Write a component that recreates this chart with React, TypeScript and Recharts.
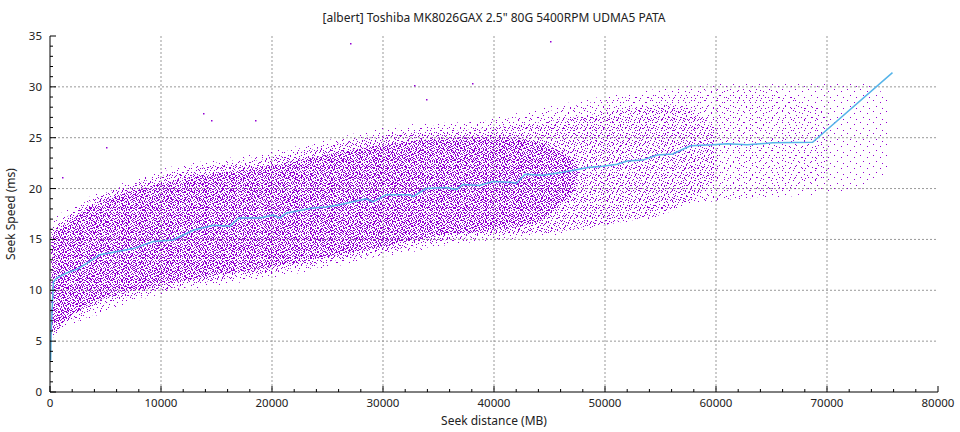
import React from "react";
import { ComposedChart, Area, Line, Scatter, XAxis, YAxis, CartesianGrid } from "recharts";

const TITLE = '[albert] Toshiba MK8026GAX 2.5" 80G 5400RPM UDMA5 PATA';

// x ticks (MB) and y ticks (ms)
const X_MAJOR = [0, 10000, 20000, 30000, 40000, 50000, 60000, 70000, 80000];
const Y_MAJOR = [0, 5, 10, 15, 20, 25, 30, 35];
const X_ALL = Array.from({ length: 41 }, (_, i) => i * 2000);
const Y_ALL = Array.from({ length: 36 }, (_, i) => i);

// running average of seek time
const AVG_X = [60, 100, 300, 600, 1500, 2500, 3300, 4500, 7500, 9300, 11100, 12900, 14700, 16200, 17000, 18900, 20100, 20700, 21300, 23700, 24900, 26100, 27300, 28500, 29100, 30300, 32400, 32700, 33900, 35700, 36600, 37200, 38700, 39900, 41700, 42000, 42800, 44400, 46200, 48600, 49800, 51100, 52000, 53400, 54700, 56100, 57700, 59700, 61000, 62800, 65100, 68700, 75900];
const AVG_Y = [3.1, 5.8, 10.8, 11.2, 11.7, 12.1, 12.65, 13.5, 14.1, 14.8, 14.95, 15.9, 16.4, 16.3, 17.1, 17.1, 17.4, 17.1, 17.6, 18.1, 18.2, 18.4, 18.7, 19.0, 18.7, 19.4, 19.4, 19.2, 20.0, 20.1, 19.9, 20.4, 20.3, 20.7, 20.6, 20.5, 21.4, 21.3, 21.6, 22.1, 22.2, 22.4, 22.7, 22.8, 23.3, 23.4, 24.2, 24.3, 24.4, 24.3, 24.5, 24.55, 31.4];

// outer edge of the sample cloud (very few samples near the rim)
const FAINT_X = [100, 1000, 3000, 6000, 10000, 14000, 18000, 22000, 26000, 30000, 34000, 38000, 42000, 46000, 50000, 54000, 58000, 62000, 66000, 70000, 73000, 75500];
const FAINT_LO = [4.8, 6.2, 7.0, 8.3, 9.6, 10.3, 10.9, 11.6, 12.4, 13.3, 14.0, 14.9, 15.0, 15.5, 16.4, 17.0, 18.4, 19.0, 19.2, 19.5, 20.0, 21.5];
const FAINT_HI = [16.8, 17.6, 18.9, 20.3, 21.9, 22.7, 23.3, 24.1, 25.0, 26.1, 26.4, 26.6, 27.4, 28.3, 29.1, 29.7, 30.1, 30.4, 30.3, 30.3, 30.4, 29.0];

// sparse part
const SPARSE_X = [100, 1000, 3000, 6000, 10000, 18000, 26000, 34000, 42000, 50000, 58000, 64000, 70000];
const SPARSE_LO = [5.0, 6.4, 7.2, 8.5, 9.8, 11.1, 12.6, 14.2, 15.2, 16.6, 18.6, 19.2, 21.0];
const SPARSE_HI = [16.4, 17.3, 18.6, 20.0, 21.6, 23.0, 24.7, 26.1, 27.0, 28.7, 29.6, 29.8, 27.5];

// medium density part
const MID_X = [100, 3000, 10000, 20000, 30000, 38000, 46000, 52000, 56000, 60000];
const MID_LO = [5.3, 7.8, 10.0, 11.8, 13.8, 15.3, 15.8, 16.8, 17.8, 21.0];
const MID_HI = [16.0, 18.3, 21.2, 23.0, 25.2, 25.8, 26.8, 27.8, 28.3, 26.0];

// dense core
const CORE_X = [200, 3000, 10000, 20000, 30000, 36000, 40000, 44000, 47500];
const CORE_LO = [6.0, 8.3, 10.5, 12.3, 14.3, 15.5, 15.9, 16.8, 20.0];
const CORE_HI = [15.5, 17.8, 20.5, 22.3, 24.3, 25.0, 25.1, 24.6, 22.5];

// stray samples outside the cloud
const OUT_X = [1100, 5050, 13800, 14500, 18500, 27000, 32800, 33900, 38000, 45000];
const OUT_Y = [21.1, 24.1, 27.4, 26.7, 26.7, 34.3, 30.2, 28.8, 30.4, 34.5];

const PURPLE = "#9400d3";
const FONT = "'Noto Sans', sans-serif";

function buildRows() {
  const map = new Map<number, any>();
  const get = (x: number) => {
    if (!map.has(x)) map.set(x, { x });
    return map.get(x);
  };
  AVG_X.forEach((x, i) => (get(x).avg = AVG_Y[i]));
  FAINT_X.forEach((x, i) => (get(x).faint = [FAINT_LO[i], FAINT_HI[i]]));
  SPARSE_X.forEach((x, i) => (get(x).sparse = [SPARSE_LO[i], SPARSE_HI[i]]));
  MID_X.forEach((x, i) => (get(x).mid = [MID_LO[i], MID_HI[i]]));
  CORE_X.forEach((x, i) => (get(x).core = [CORE_LO[i], CORE_HI[i]]));
  return Array.from(map.values()).sort((a, b) => a.x - b.x);
}

const rows = buildRows();
const outliers = OUT_X.map((x, i) => ({ x, y: OUT_Y[i] }));

const tickText = { fontFamily: FONT, fontSize: 11.5, fill: "#222" };

function BottomTick(props: any) {
  const { x, y, payload } = props;
  const major = payload.value % 10000 === 0;
  return (
    <g>
      <line x1={x} x2={x} y1={y} y2={y - (major ? 6 : 3)} stroke="#000" />
      {major && (
        <text x={x} y={y + 15} textAnchor="middle" style={tickText}>
          {payload.value}
        </text>
      )}
    </g>
  );
}

function TopTick(props: any) {
  const { x, y, payload } = props;
  const major = payload.value % 10000 === 0;
  return <line x1={x} x2={x} y1={y} y2={y + (major ? 6 : 3)} stroke="#000" />;
}

function LeftTick(props: any) {
  const { x, y, payload } = props;
  const major = payload.value % 5 === 0;
  return (
    <g>
      <line x1={x} x2={x + (major ? 6 : 3)} y1={y} y2={y} stroke="#000" />
      {major && (
        <text x={x - 8} y={y + 4} textAnchor="end" style={tickText}>
          {payload.value}
        </text>
      )}
    </g>
  );
}

function RightTick(props: any) {
  const { x, y, payload } = props;
  const major = payload.value % 5 === 0;
  return <line x1={x} x2={x - (major ? 6 : 3)} y1={y} y2={y} stroke="#000" />;
}

const Dot = (props: any) => (
  <rect x={Math.round(props.cx)} y={Math.round(props.cy)} width={1.5} height={1.5} fill={PURPLE} />
);

// texture tiles for the sample cloud
const PIX_0 = [[2, 1], [9, 3], [5, 7], [11, 9]];
const PIX_1 = [[1, 0], [7, 2], [4, 5], [9, 7], [2, 8]];
const PIX_2 = [[0, 1], [4, 0], [7, 2], [2, 4], [6, 5], [1, 7], [5, 7], [8, 6]];
const PIX_3 = [[0, 0], [3, 0], [5, 1], [1, 2], [4, 2], [6, 3], [2, 3], [0, 4], [3, 5], [5, 4], [2, 5]];

function dots(id: string, w: number, h: number, pix: number[][]) {
  return (
    <pattern id={id} width={w} height={h} patternUnits="userSpaceOnUse">
      {pix.map(([px, py], i) => (
        <rect key={i} x={px} y={py} width={1} height={1} fill={PURPLE} />
      ))}
    </pattern>
  );
}

export default function App() {
  return (
    <div style={{ position: "relative", width: 960, height: 432, background: "#fff" }}>
      <style>{"body{margin:0}"}</style>
      <ComposedChart width={960} height={432} data={rows} margin={{ top: 36, right: 22, bottom: 0, left: 0 }}>
        <defs>
          {dots("dots0", 13, 11, PIX_0)}
          {dots("dots1", 11, 10, PIX_1)}
          {dots("dots2", 9, 8, PIX_2)}
          {dots("dots3", 7, 6, PIX_3)}
        </defs>
        <CartesianGrid
          stroke="#999"
          strokeDasharray="2 2"
          verticalValues={X_MAJOR.slice(1, -1)}
          horizontalValues={Y_MAJOR.slice(1, -1)}
        />
        <XAxis
          dataKey="x"
          type="number"
          domain={[0, 80000]}
          ticks={X_ALL}
          interval={0}
          height={40}
          tickSize={0}
          tickMargin={0}
          tickLine={false}
          axisLine={{ stroke: "#000" }}
          tick={<BottomTick />}
        />
        <XAxis
          xAxisId="top"
          orientation="top"
          dataKey="x"
          type="number"
          domain={[0, 80000]}
          ticks={X_ALL}
          interval={0}
          height={0}
          tickSize={0}
          tickMargin={0}
          tickLine={false}
          axisLine={{ stroke: "#000" }}
          tick={<TopTick />}
        />
        <YAxis
          type="number"
          domain={[0, 35]}
          ticks={Y_ALL}
          interval={0}
          width={50}
          tickSize={0}
          tickMargin={0}
          tickLine={false}
          axisLine={{ stroke: "#000" }}
          tick={<LeftTick />}
        />
        <YAxis
          yAxisId="right"
          orientation="right"
          type="number"
          domain={[0, 35]}
          ticks={Y_ALL}
          interval={0}
          width={0}
          tickSize={0}
          tickMargin={0}
          tickLine={false}
          axisLine={{ stroke: "#000" }}
          tick={<RightTick />}
        />
        <Area dataKey="faint" type="monotone" stroke="none" fill="url(#dots0)" fillOpacity={1} connectNulls isAnimationActive={false} />
        <Area dataKey="sparse" type="monotone" stroke="none" fill="url(#dots1)" fillOpacity={1} connectNulls isAnimationActive={false} />
        <Area dataKey="mid" type="monotone" stroke="none" fill="url(#dots2)" fillOpacity={1} connectNulls isAnimationActive={false} />
        <Area dataKey="core" type="monotone" stroke="none" fill="url(#dots3)" fillOpacity={1} connectNulls isAnimationActive={false} />
        <Scatter data={outliers} dataKey="y" shape={Dot} isAnimationActive={false} />
        <Line dataKey="avg" type="linear" stroke="#56b4e9" strokeWidth={1.5} dot={false} connectNulls isAnimationActive={false} />
      </ComposedChart>
      <div style={{ position: "absolute", left: 50, width: 888, top: 9, textAlign: "center", fontFamily: FONT, fontSize: 12, color: "#222" }}>
        {TITLE}
      </div>
      <div style={{ position: "absolute", left: 50, width: 888, top: 412, textAlign: "center", fontFamily: FONT, fontSize: 12, color: "#222" }}>
        Seek distance (MB)
      </div>
      <div
        style={{
          position: "absolute",
          left: 10,
          top: 214,
          transform: "translate(-50%, -50%) rotate(-90deg)",
          whiteSpace: "nowrap",
          fontFamily: FONT,
          fontSize: 12,
          color: "#222",
        }}
      >
        Seek Speed (ms)
      </div>
    </div>
  );
}
